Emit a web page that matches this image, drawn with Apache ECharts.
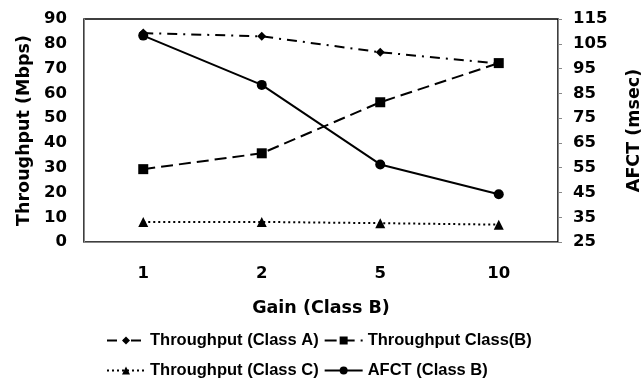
<!DOCTYPE html>
<html><head><meta charset="utf-8">
<script src="https://cdn.jsdelivr.net/npm/echarts@6/dist/echarts.min.js"></script>
<style>html,body{margin:0;padding:0;background:#fff}#c{width:641px;height:390px}</style>
</head><body><div id="c"></div>
<script>
const categories = ['1', '2', '5', '10'];
const throughputA = [84.3, 83.0, 76.6, 72.0];
const throughputB = [29.4, 35.8, 56.4, 72.2];
const throughputC = [8.1, 8.1, 7.6, 7.0];
const afctB = [108.3, 88.4, 56.3, 44.3];
const leftTicks = [0, 90, 10];
const rightTicks = [25, 115, 10];

const legendFont = 'Liberation Sans, Arial, sans-serif';
const axisFont = 'DejaVu Sans, sans-serif';
const chart = echarts.init(document.getElementById('c'), null, {renderer: 'canvas'});
const lbl = {color: '#000', fontFamily: axisFont, fontWeight: 'bold', fontSize: 16.5};
const nm = {color: '#000', fontFamily: axisFont, fontWeight: 'bold', fontSize: 17.5};
function ser(name, data, sym, size, type, yIdx) {
  return {
    name, type: 'line', data, yAxisIndex: yIdx, symbol: sym, symbolSize: size,
    itemStyle: {color: '#000'},
    lineStyle: {color: '#000', width: 2, type},
    emphasis: {disabled: true}, animation: false
  };
}
chart.setOption({
  animation: false,
  grid: {left: 84, right: 83, top: 19, bottom: 148, show: true, borderColor: '#000', borderWidth: 1.5,
         containLabel: false, outerBoundsMode: 'none'},
  legend: {
    data: ['Throughput (Class A)', 'Throughput Class(B)', 'Throughput (Class C)', 'AFCT (Class B)'],
    left: 101, top: 323, width: 440, itemWidth: 38, itemHeight: 10, itemGap: 5,
    textStyle: {color: '#000', fontFamily: legendFont, fontWeight: 'bold', fontSize: 16.5, lineHeight: 25},
    selectedMode: false
  },
  xAxis: {
    type: 'category', data: categories, boundaryGap: true,
    name: 'Gain (Class B)', nameLocation: 'middle', nameGap: 57,
    nameTextStyle: nm,
    axisLine: {lineStyle: {color: '#888', width: 1}},
    axisTick: {show: false},
    axisLabel: Object.assign({margin: 23}, lbl)
  },
  yAxis: [
    {
      type: 'value', min: leftTicks[0], max: leftTicks[1], interval: leftTicks[2],
      name: 'Throughput (Mbps)', nameLocation: 'middle', nameGap: 51, nameRotate: 90,
      nameTextStyle: nm,
      axisLine: {show: true, lineStyle: {color: '#888'}},
      axisTick: {show: false}, splitLine: {show: false},
      axisLabel: Object.assign({margin: 17}, lbl)
    },
    {
      type: 'value', min: rightTicks[0], max: rightTicks[1], interval: rightTicks[2],
      name: 'AFCT (msec)', nameLocation: 'middle', nameGap: 67, nameRotate: 90,
      nameTextStyle: nm, position: 'right',
      axisLine: {show: true, lineStyle: {color: '#888'}},
      axisTick: {show: true, length: 4, lineStyle: {color: '#888'}}, splitLine: {show: false},
      axisLabel: Object.assign({margin: 15}, lbl)
    }
  ],
  series: [
    ser('Throughput (Class A)', throughputA, 'diamond', 9, [10, 6, 2, 6], 0),
    ser('Throughput Class(B)', throughputB, 'rect', 10, [12, 6], 0),
    ser('Throughput (Class C)', throughputC, 'triangle', 10, [2, 3], 0),
    ser('AFCT (Class B)', afctB, 'circle', 10, 'solid', 1)
  ]
});
</script></body></html>
